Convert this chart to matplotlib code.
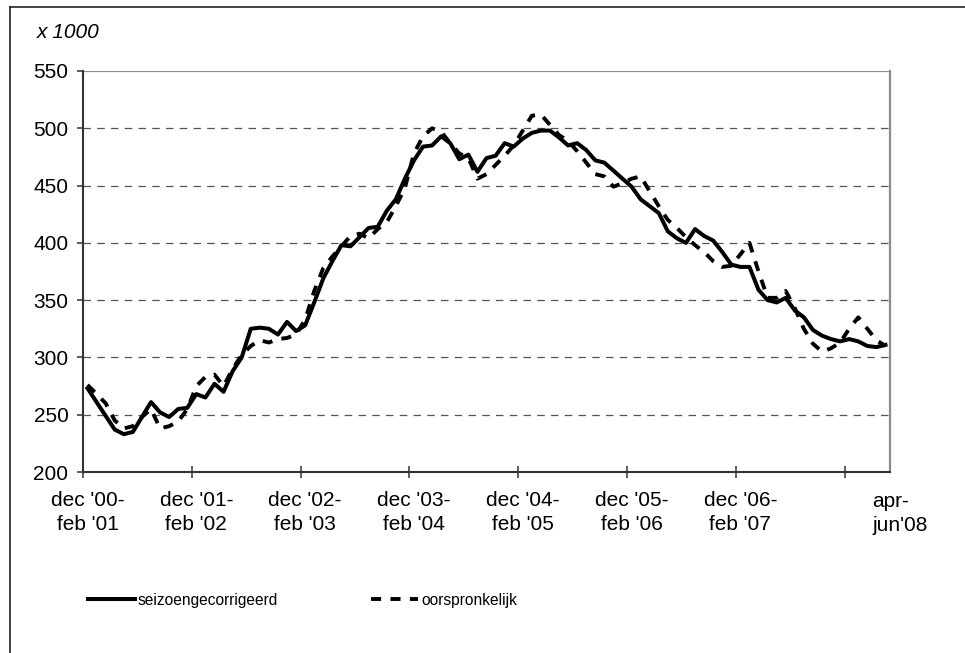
import matplotlib
matplotlib.use("Agg")
import matplotlib.pyplot as plt
from matplotlib.lines import Line2D
from matplotlib.transforms import blended_transform_factory
import numpy as np

plt.rcParams["font.family"] = ["Liberation Sans", "DejaVu Sans"]

# monthly moving quarters, dec '00-feb '01 ... apr-jun '08
seizoengecorrigeerd = [
    273, 261, 249, 237, 233, 235, 248, 261, 252, 248, 255, 256,
    268, 265, 277, 270, 288, 300, 325, 326, 325, 320, 331, 323,
    328, 348, 369, 384, 398, 397, 405, 413, 414, 428, 438, 456,
    472, 484, 485, 493, 487, 473, 477, 462, 474, 476, 487, 484,
    491, 496, 498, 498, 492, 485, 487, 481, 472, 470, 463, 456,
    449, 438, 432, 426, 410, 404, 400, 412, 406, 402, 392, 381,
    379, 379, 359, 350, 348, 352, 341, 335, 324, 319, 316, 314,
    316, 314, 310, 309, 311,
]
oorspronkelijk = [
    276, 268, 260, 245, 238, 240, 248, 255, 238, 240, 244, 255,
    275, 283, 285, 275, 290, 302, 310, 315, 313, 316, 317, 320,
    333, 358, 378, 388, 397, 406, 408, 404, 412, 418, 432, 448,
    478, 493, 500, 497, 487, 478, 474, 456, 460, 468, 476, 485,
    498, 511, 512, 503, 494, 489, 480, 470, 460, 458, 449, 452,
    456, 458, 445, 432, 420, 413, 405, 398, 392, 384, 379, 380,
    390, 400, 375, 352, 352, 358, 343, 325, 312, 305, 308, 313,
    325, 335, 325, 315, 310,
]
tick_labels = [
    "dec '00-\nfeb '01", "dec '01-\nfeb '02", "dec '02-\nfeb '03",
    "dec '03-\nfeb '04", "dec '04-\nfeb '05", "dec '05-\nfeb '06",
    "dec '06-\nfeb '07",
]
last_label = "apr-\njun'08"

n = len(seizoengecorrigeerd)
x = np.arange(n)

W, H = 965, 653
fig = plt.figure(figsize=(W / 100, H / 100), dpi=100)
ax = fig.add_axes([83 / W, 1 - 472 / H, (890 - 83) / W, (472 - 71) / H])

ax.plot(x, seizoengecorrigeerd, color="black", lw=2.9,
        label="seizoengecorrigeerd", zorder=3)
ax.plot(x, oorspronkelijk, color="black", lw=2.8, dashes=(2.6, 2.4),
        label="oorspronkelijk", zorder=3)

ax.set_xlim(-0.5, n - 0.5)
ax.set_ylim(200, 550)
ax.set_yticks(np.arange(200, 551, 50))
for v in range(250, 501, 50):
    ax.axhline(v, color="#555555", lw=0.9, dashes=(6, 5), zorder=1)
ax.axhline(550, color="#8c8c8c", lw=1.6, zorder=1)

# category axis: tick marks on the boundaries, labels on the categories
ax.set_xticks(np.arange(-0.5, n, 12), minor=True)
ax.set_xticks(np.arange(0, 12 * len(tick_labels), 12))
ax.set_xticklabels(tick_labels, linespacing=1.3)
ax.tick_params(axis="x", which="major", length=0, pad=14, labelsize=15)
ax.tick_params(axis="x", which="minor", direction="inout", length=8,
               width=1.1, color="#333333")
ax.tick_params(axis="y", direction="out", length=4.5, width=1.1,
               color="#333333", pad=6, labelsize=15)
trans = blended_transform_factory(ax.transData, ax.transAxes)
ax.text(89.6, -0.05, last_label, transform=trans, ha="center", va="top",
        multialignment="left", fontsize=15, linespacing=1.3)

for side in ["left", "bottom"]:
    ax.spines[side].set_color("#333333")
    ax.spines[side].set_linewidth(1.5)
ax.spines["top"].set_visible(False)
ax.spines["right"].set_color("#8c8c8c")
ax.spines["right"].set_linewidth(1.6)

fig.text(37 / W, 1 - 32 / H, "x 1000", fontsize=15, style="italic",
         ha="left", va="center")

leg = fig.legend(loc="center left", bbox_to_anchor=(88 / W, 1 - 600 / H),
                 ncol=2, frameon=False, fontsize=11.2, handlelength=3.0,
                 handletextpad=0.2, columnspacing=6.0, borderpad=0,
                 borderaxespad=0)

# outer frame (cropped on the right and bottom)
fig.add_artist(Line2D([10 / W, 1], [1 - 7 / H, 1 - 7 / H],
                      transform=fig.transFigure, color="#222222", lw=1.2))
fig.add_artist(Line2D([10 / W, 10 / W], [0, 1 - 7 / H],
                      transform=fig.transFigure, color="#222222", lw=1.2))

fig.savefig("out.png", dpi=100)
